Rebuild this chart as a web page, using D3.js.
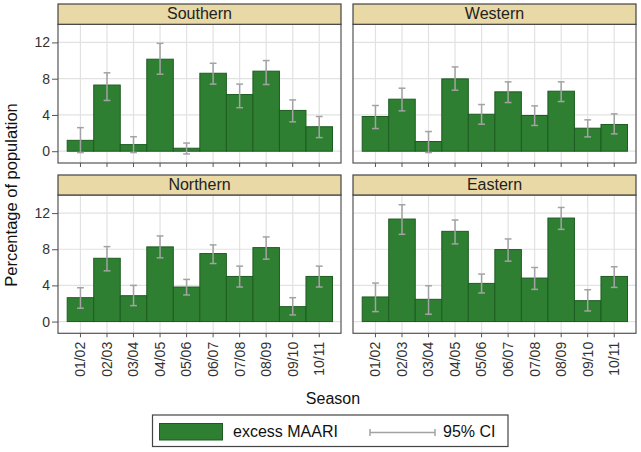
<!DOCTYPE html>
<html><head><meta charset="utf-8">
<script src="https://cdn.jsdelivr.net/npm/d3@7"></script>
<style>body{margin:0;background:#fff}svg{display:block;font-family:"Liberation Sans",Arial,sans-serif}</style>
</head><body><svg id="c" width="641" height="452"></svg>
<script>
const seasons = ["01/02","02/03","03/04","04/05","05/06","06/07","07/08","08/09","09/10","10/11"];
const regions = ["Southern","Western","Northern","Eastern"];
const southern = [1.2,7.3,0.73,10.15,0.33,8.6,6.25,8.83,4.5,2.7];
const southernLo = [-0.15,5.6,-0.15,8.5,-0.3,7.4,4.8,7.36,3.24,1.5];
const southernHi = [2.6,8.65,1.6,11.9,0.9,9.7,7.4,10.0,5.66,3.83];
const western = [3.83,5.74,1.07,7.98,4.08,6.55,3.94,6.62,2.54,2.95];
const westernLo = [2.5,4.45,-0.15,6.73,2.98,5.37,2.84,5.48,1.58,1.91];
const westernHi = [5.04,6.95,2.17,9.3,5.15,7.65,5.0,7.65,3.46,4.12];
const northern = [2.64,7.0,2.86,8.26,3.82,7.52,4.99,8.18,1.65,4.99];
const northernLo = [1.47,5.61,1.76,7.05,2.94,6.42,3.82,6.9,0.73,3.82];
const northernHi = [3.74,8.29,4.0,9.47,4.66,8.48,6.13,9.36,2.64,6.13];
const eastern = [2.72,11.34,2.46,9.98,4.22,7.96,4.81,11.45,2.31,4.99];
const easternLo = [1.1,9.65,0.81,8.59,3.16,6.68,3.56,10.2,1.17,3.78];
const easternHi = [4.26,12.92,3.96,11.23,5.25,9.14,5.98,12.62,3.52,6.06];
const yTicks = [0,4,8,12];

const seriesData = [
  [southern, southernLo, southernHi],
  [western, westernLo, westernHi],
  [northern, northernLo, northernHi],
  [eastern, easternLo, easternHi]
];

const FONT = "'Liberation Sans', Arial, sans-serif";
const svg = d3.select("#c");
const cols = [[58,341],[353,636]];
const rows = [{strip:4, top:24.3, bottom:163},{strip:175, top:195, bottom:333.3}];
const barFill = "#2f7f33", barStroke = "#1d5c21", ciCol = "#a3a3a3", gridCol = "#e2e2e2", frameCol = "#555";

regions.forEach((name, i) => {
  const c = cols[i % 2], r = rows[Math.floor(i / 2)];
  const x = d3.scaleBand().domain(seasons).range([c[0] + 9.2, c[1] - 8.5]).padding(0);
  const y = d3.scaleLinear().domain([-1.3, 14]).range([r.bottom, r.top]);
  const g = svg.append("g");
  g.selectAll(".hg").data(yTicks).join("line")
    .attr("x1", c[0]).attr("x2", c[1]).attr("y1", d => y(d)).attr("y2", d => y(d))
    .attr("stroke", gridCol).attr("stroke-width", 1.2);
  g.selectAll(".vg").data(seasons).join("line")
    .attr("x1", d => x(d) + x.bandwidth()/2).attr("x2", d => x(d) + x.bandwidth()/2)
    .attr("y1", r.top).attr("y2", r.bottom).attr("stroke", gridCol).attr("stroke-width", 1.2);
  const [vals, lo, hi] = seriesData[i];
  g.selectAll(".bar").data(seasons).join("rect")
    .attr("x", d => x(d)).attr("width", x.bandwidth())
    .attr("y", (d, k) => y(vals[k])).attr("height", (d, k) => y(0) - y(vals[k]))
    .attr("fill", barFill).attr("stroke", barStroke).attr("stroke-width", 1);
  const cx = d => x(d) + x.bandwidth()/2;
  const eb = g.selectAll(".eb").data(seasons).join("g");
  eb.append("line").attr("x1", cx).attr("x2", cx)
    .attr("y1", (d, k) => y(lo[k])).attr("y2", (d, k) => y(hi[k]))
    .attr("stroke", ciCol).attr("stroke-width", 1.5);
  eb.append("line").attr("x1", d => cx(d) - 3.4).attr("x2", d => cx(d) + 3.4)
    .attr("y1", (d, k) => y(lo[k])).attr("y2", (d, k) => y(lo[k]))
    .attr("stroke", ciCol).attr("stroke-width", 1.5);
  eb.append("line").attr("x1", d => cx(d) - 3.4).attr("x2", d => cx(d) + 3.4)
    .attr("y1", (d, k) => y(hi[k])).attr("y2", (d, k) => y(hi[k]))
    .attr("stroke", ciCol).attr("stroke-width", 1.5);
  g.append("rect").attr("x", c[0]).attr("y", r.top).attr("width", c[1]-c[0]).attr("height", r.bottom - r.top)
    .attr("fill", "none").attr("stroke", frameCol).attr("stroke-width", 1.2);
  g.append("rect").attr("x", c[0]).attr("y", r.strip).attr("width", c[1]-c[0]).attr("height", r.top - r.strip)
    .attr("fill", "#e8d9a6").attr("stroke", "#444").attr("stroke-width", 1.2);
  g.append("text").attr("x", (c[0]+c[1])/2).attr("y", r.top - 5).attr("text-anchor", "middle")
    .attr("font-size", 16).attr("fill", "#222").attr("font-family", FONT).text(name);
  if (i % 2 === 0) {
    const ya = d3.axisLeft(y).tickValues(yTicks).tickSize(6).tickPadding(2).tickFormat(d3.format("d"));
    const ag = g.append("g").attr("transform", `translate(${c[0]},0)`).call(ya);
    ag.select(".domain").remove();
    ag.selectAll("line").attr("stroke", frameCol);
    ag.selectAll("text").attr("font-size", 14).attr("fill", "#333").attr("font-family", FONT);
  }
  const xa = d3.axisBottom(x).tickSize(4).tickPadding(5);
  const xg = g.append("g").attr("transform", `translate(0,${r.bottom})`).call(xa);
  xg.select(".domain").remove();
  xg.selectAll("line").attr("stroke", frameCol);
  if (i >= 2) {
    xg.selectAll("text").attr("font-size", 14).attr("fill", "#333").attr("font-family", FONT)
      .attr("transform", "rotate(-90)").attr("text-anchor", "end")
      .attr("x", -8.5).attr("y", 0).attr("dy", "0.35em");
  } else {
    xg.selectAll("text").remove();
  }
});

svg.append("text").attr("transform", "translate(17,195) rotate(-90)").attr("text-anchor", "middle")
  .attr("font-size", 16.5).attr("fill", "#111").attr("font-family", FONT).text("Percentage of population");
svg.append("text").attr("x", 333).attr("y", 404).attr("text-anchor", "middle")
  .attr("font-size", 16).attr("fill", "#111").attr("font-family", FONT).text("Season");

const lg = svg.append("g");
lg.append("rect").attr("x", 152.5).attr("y", 415).attr("width", 355.5).attr("height", 31.5)
  .attr("fill", "#fff").attr("stroke", "#444").attr("stroke-width", 1.2);
lg.append("rect").attr("x", 159.5).attr("y", 423.5).attr("width", 63).attr("height", 16.5)
  .attr("fill", barFill).attr("stroke", barStroke);
lg.append("text").attr("x", 233).attr("y", 437).attr("font-size", 16).attr("fill", "#111").attr("font-family", FONT).text("excess MAARI");
lg.append("line").attr("x1", 370).attr("x2", 435).attr("y1", 432.5).attr("y2", 432.5).attr("stroke", ciCol).attr("stroke-width", 1.5);
lg.append("line").attr("x1", 370).attr("x2", 370).attr("y1", 429).attr("y2", 436).attr("stroke", ciCol).attr("stroke-width", 1.5);
lg.append("line").attr("x1", 435).attr("x2", 435).attr("y1", 429).attr("y2", 436).attr("stroke", ciCol).attr("stroke-width", 1.5);
lg.append("text").attr("x", 443).attr("y", 437).attr("font-size", 16).attr("fill", "#111").attr("font-family", FONT).text("95% CI");
</script></body></html>
